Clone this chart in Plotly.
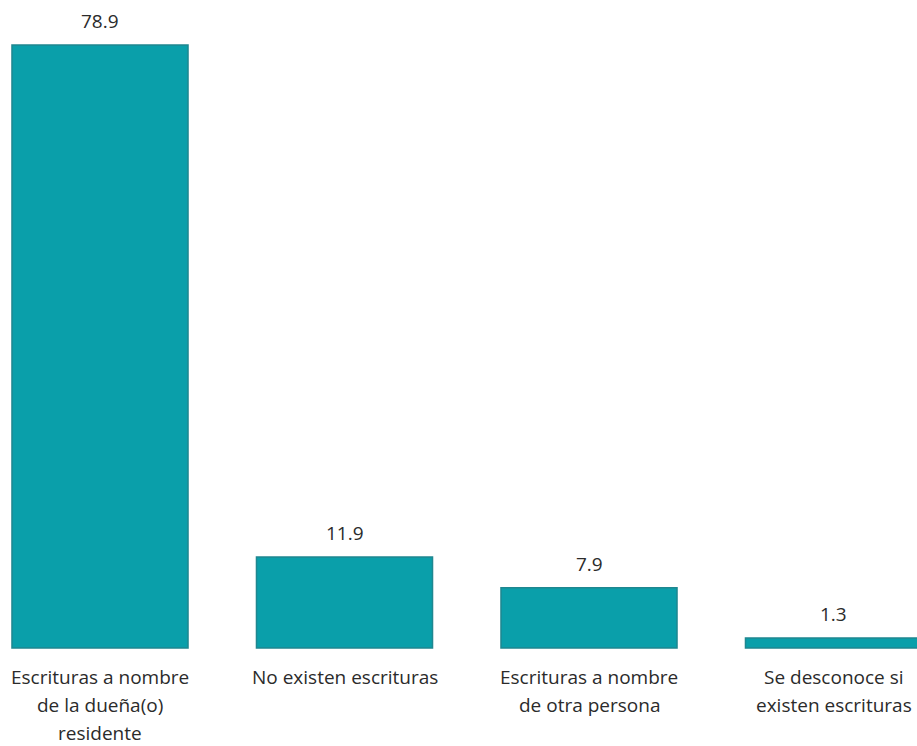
import plotly.graph_objects as go

categories = [
    "Escrituras a nombre de la dueña(o) residente",
    "No existen escrituras",
    "Escrituras a nombre de otra persona",
    "Se desconoce si existen escrituras",
]
label_lines = [
    ["Escrituras a nombre", "de la dueña(o)", "residente"],
    ["No existen escrituras"],
    ["Escrituras a nombre", "de otra persona"],
    ["Se desconoce si", "existen escrituras"],
]
values = [78.9, 11.9, 7.9, 1.3]
value_labels = ["78.9", "11.9", "7.9", "1.3"]

FONT = "Open Sans, Noto Sans, sans-serif"
TXT = "#2b2b2b"

fig = go.Figure()
fig.add_trace(go.Bar(
    x=list(range(len(categories))),
    y=values,
    width=0.72,
    marker=dict(color="#0A9FAA", line=dict(color="#1F8790", width=1.5)),
    hoverinfo="skip",
))

annotations = []
for i, (v, lab) in enumerate(zip(values, value_labels)):
    annotations.append(dict(x=i, y=v, xref="x", yref="y", text=lab, showarrow=False,
                            yanchor="middle", yshift=24,
                            font=dict(family=FONT, size=19, color=TXT)))
for i, lines in enumerate(label_lines):
    for j, line in enumerate(lines):
        annotations.append(dict(x=i, y=0, xref="x", yref="y", text=line, showarrow=False,
                                yanchor="middle", yshift=-(29 + 28 * j),
                                font=dict(family=FONT, size=19, color=TXT)))

fig.update_layout(
    width=917, height=746,
    margin=dict(l=0, r=0, t=0, b=0),
    paper_bgcolor="white", plot_bgcolor="white",
    showlegend=False,
    xaxis=dict(range=[-0.409, 3.3415], visible=False, fixedrange=True),
    yaxis=dict(range=[-12.82, 84.78], visible=False, fixedrange=True),
    annotations=annotations,
)

fig.write_html(
    "out.html",
    config={"displayModeBar": False},
    post_script="document.body.style.margin='0';document.body.style.overflow='hidden';",
)
